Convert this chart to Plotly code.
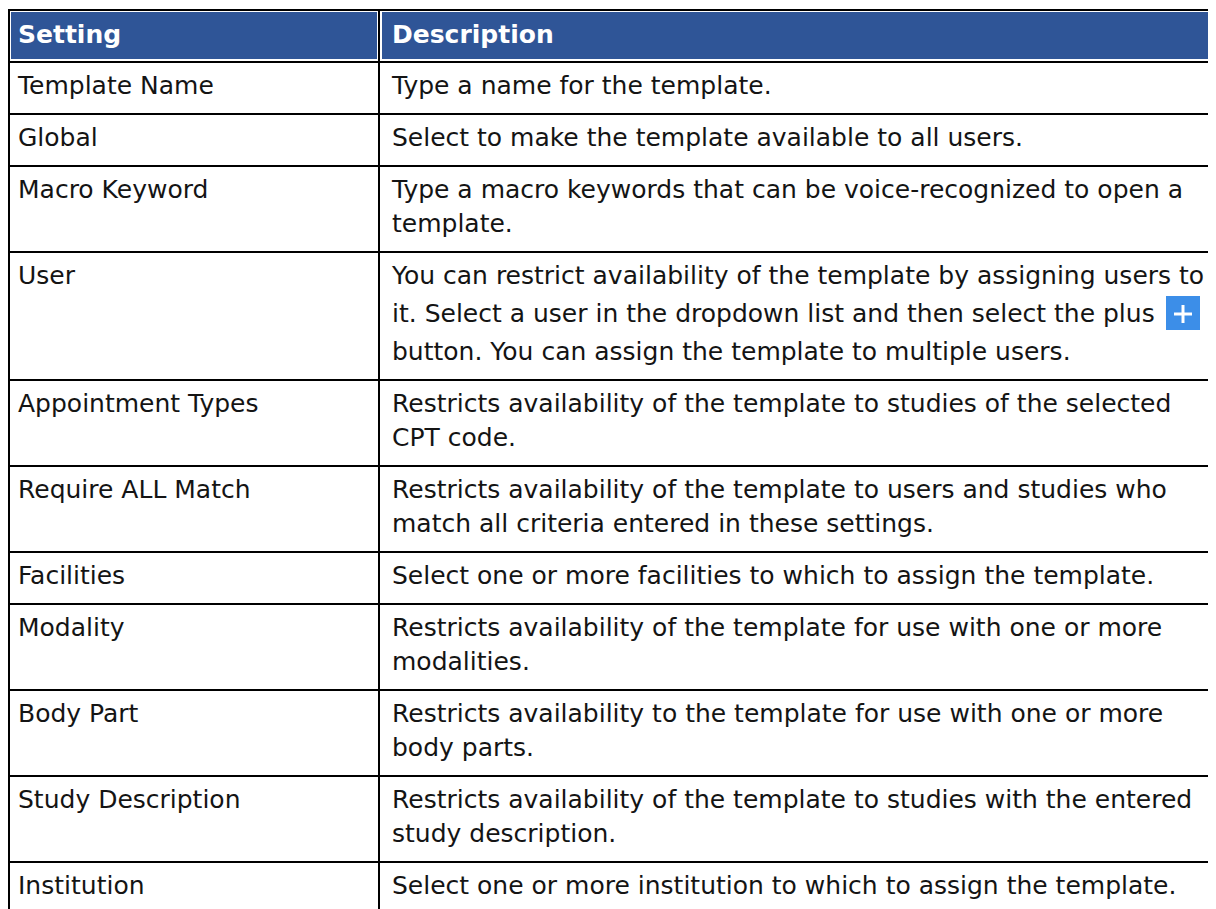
import plotly.graph_objects as go

# ---------------- data ----------------
header_labels = ["Setting", "Description"]

settings = [
    "Template Name",
    "Global",
    "Macro Keyword",
    "User",
    "Appointment Types",
    "Require ALL Match",
    "Facilities",
    "Modality",
    "Body Part",
    "Study Description",
    "Institution",
]

descriptions = [
    ["Type a name for the template."],
    ["Select to make the template available to all users."],
    ["Type a macro keywords that can be voice-recognized to open a",
     "template."],
    ["You can restrict availability of the template by assigning users to",
     "it. Select a user in the dropdown list and then select the plus",
     "button. You can assign the template to multiple users."],
    ["Restricts availability of the template to studies of the selected",
     "CPT code."],
    ["Restricts availability of the template to users and studies who",
     "match all criteria entered in these settings."],
    ["Select one or more facilities to which to assign the template."],
    ["Restricts availability of the template for use with one or more",
     "modalities."],
    ["Restricts availability to the template for use with one or more",
     "body parts."],
    ["Restricts availability of the template to studies with the entered",
     "study description."],
    ["Select one or more institution to which to assign the template."],
]

icon_row = "User"      # row whose 2nd line ends with the "+" button icon
icon_line = 1

# ---------------- style / layout ----------------
FONT = "DejaVu Sans, Verdana, sans-serif"
FONT_SIZE = 25
HEADER_BLUE = "#2F5597"
ICON_BLUE = "#3C8EE8"
TEXT_COLOR = "#141414"
GRID = "black"

FIG_W, FIG_H = 1208, 901          # page body adds an 8px margin
X_MIN, X_MAX = 8, 8 + FIG_W        # axis units = page pixels
Y_MIN, Y_MAX = 8, 8 + FIG_H

X_LEFT, X_DIV, X_RIGHT = 9, 379, 1240
Y_TOP = 10
HEADER_H = 52
ROW_BASE = 52
LINE_H = 34
ICON_EXTRA = 8
PAD_X = 10
FIRST_LINE = 26
ICON_SIZE = 34
ICON_X = 1166

# row geometry derived from the number of text lines in each row
row_tops, row_bottoms = [], []
y = Y_TOP + HEADER_H
for name, lines in zip(settings, descriptions):
    h = ROW_BASE + LINE_H * (len(lines) - 1) + (ICON_EXTRA if name == icon_row else 0)
    row_tops.append(y)
    y += h
    row_bottoms.append(y)
table_bottom = row_bottoms[-1]

shapes = []
# header fills (inset, leaving a thin white gap inside the black grid)
for x0, x1 in [(X_LEFT + 2, X_DIV - 2), (X_DIV + 3, X_RIGHT)]:
    shapes.append(dict(type="rect", xref="x", yref="y", x0=x0, x1=x1,
                       y0=Y_TOP + 2, y1=Y_TOP + HEADER_H - 3,
                       fillcolor=HEADER_BLUE, line=dict(width=0), layer="below"))
# horizontal grid lines
for yy in [Y_TOP, Y_TOP + HEADER_H] + row_bottoms:
    shapes.append(dict(type="line", xref="x", yref="y", x0=X_LEFT - 1, x1=X_RIGHT,
                       y0=yy, y1=yy, line=dict(color=GRID, width=2)))
# vertical grid lines
for xx in [X_LEFT, X_DIV]:
    shapes.append(dict(type="line", xref="x", yref="y", x0=xx, x1=xx,
                       y0=Y_TOP - 1, y1=table_bottom + 1, line=dict(color=GRID, width=2)))

# text positions
set_x, set_y, set_t = [], [], []
desc_x, desc_y, desc_t = [], [], []
icon_center = None
for name, lines, top in zip(settings, descriptions, row_tops):
    set_x.append(X_LEFT + PAD_X - 1)
    set_y.append(top + FIRST_LINE)
    set_t.append(name)
    for k, line in enumerate(lines):
        shift = 0
        if name == icon_row:
            shift = 4 if k == icon_line else (ICON_EXTRA if k > icon_line else 0)
        ly = top + FIRST_LINE + LINE_H * k + shift
        desc_x.append(X_DIV + 13)
        desc_y.append(ly)
        desc_t.append(line)
        if name == icon_row and k == icon_line:
            icon_center = ly - 3

# "+" button icon
if icon_center is not None:
    shapes.append(dict(type="rect", xref="x", yref="y", x0=ICON_X, x1=ICON_X + ICON_SIZE,
                       y0=icon_center - ICON_SIZE / 2, y1=icon_center + ICON_SIZE / 2,
                       fillcolor=ICON_BLUE, line=dict(width=0)))
    cx = ICON_X + ICON_SIZE / 2
    shapes.append(dict(type="line", xref="x", yref="y", x0=cx - 9, x1=cx + 9,
                       y0=icon_center + 1, y1=icon_center + 1, line=dict(color="white", width=3)))
    shapes.append(dict(type="line", xref="x", yref="y", x0=cx, x1=cx,
                       y0=icon_center - 8, y1=icon_center + 10, line=dict(color="white", width=3)))

fig = go.Figure()
fig.add_trace(go.Scatter(
    x=[X_LEFT + PAD_X - 1, X_DIV + 13], y=[Y_TOP + HEADER_H / 2 + 1] * 2,
    text=["<b>%s</b>" % h for h in header_labels],
    mode="text", textposition="middle right",
    textfont=dict(family=FONT, size=FONT_SIZE, color="white"),
    hoverinfo="skip", showlegend=False, cliponaxis=False,
))
fig.add_trace(go.Scatter(
    x=set_x, y=set_y, text=set_t, mode="text", textposition="middle right",
    textfont=dict(family=FONT, size=FONT_SIZE, color=TEXT_COLOR),
    hoverinfo="skip", showlegend=False,
))
fig.add_trace(go.Scatter(
    x=desc_x, y=desc_y, text=desc_t, mode="text", textposition="middle right",
    textfont=dict(family=FONT, size=FONT_SIZE, color=TEXT_COLOR),
    hoverinfo="skip", showlegend=False,
))

fig.update_layout(
    width=FIG_W, height=FIG_H,
    margin=dict(l=0, r=0, t=0, b=0),
    paper_bgcolor="white", plot_bgcolor="white",
    shapes=shapes,
    xaxis=dict(range=[X_MIN, X_MAX], visible=False, fixedrange=True),
    yaxis=dict(range=[Y_MAX, Y_MIN], visible=False, fixedrange=True),
)

fig.write_html("out.html", config=dict(displayModeBar=False))
